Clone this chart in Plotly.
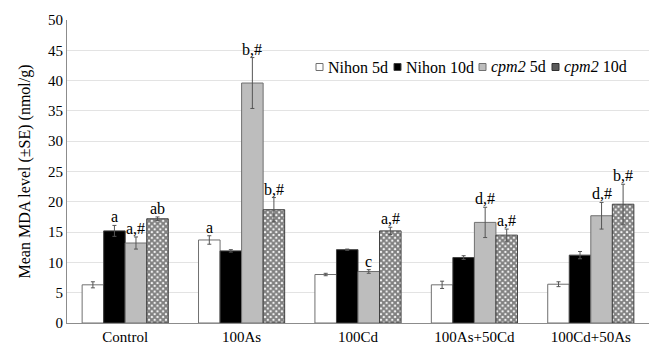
import plotly.graph_objects as go

categories = ["Control", "100As", "100Cd", "100As+50Cd", "100Cd+50As"]
series_names = ["Nihon 5d", "Nihon 10d", "<i>cpm2</i> 5d", "<i>cpm2</i> 10d"]

nihon_5d = [6.3, 13.7, 8.0, 6.3, 6.4]
nihon_10d = [15.2, 11.9, 12.1, 10.8, 11.2]
cpm2_5d = [13.2, 39.6, 8.5, 16.6, 17.7]
cpm2_10d = [17.2, 18.7, 15.2, 14.5, 19.6]

nihon_5d_se = [0.5, 0.7, 0.2, 0.6, 0.4]
nihon_10d_se = [0.9, 0.2, 0.1, 0.3, 0.6]
cpm2_5d_se = [1.0, 4.2, 0.3, 2.5, 2.2]
cpm2_10d_se = [0.3, 2.0, 0.6, 1.0, 3.3]

nihon_5d_lab = ["", "a", "", "", ""]
nihon_10d_lab = ["a", "", "", "", ""]
cpm2_5d_lab = ["a,#", "b,#", "c", "d,#", "d,#"]
cpm2_10d_lab = ["ab", "b,#", "a,#", "a,#", "b,#"]

values = [nihon_5d, nihon_10d, cpm2_5d, cpm2_10d]
errors = [nihon_5d_se, nihon_10d_se, cpm2_5d_se, cpm2_10d_se]
labels = [nihon_5d_lab, nihon_10d_lab, cpm2_5d_lab, cpm2_10d_lab]

fills = ["white", "black", "#bdbdbd", "#5a5a5a"]
edges = ["#707070", "#404040", "#707070", "#303030"]
styles = [
    dict(color="white", line=dict(color="#707070", width=1)),
    dict(color="black", line=dict(color="#404040", width=1)),
    dict(color="#bdbdbd", line=dict(color="#707070", width=1)),
    dict(color="white", line=dict(color="#404040", width=1),
         pattern=dict(shape="x", fgcolor="black", bgcolor="white", size=4, solidity=0.75)),
]

font = "Liberation Serif, Times New Roman, serif"
fig = go.Figure()
for name, v, e, lab, st in zip(series_names, values, errors, labels, styles):
    fig.add_trace(go.Bar(
        x=categories, y=v, name=name, marker=st, showlegend=False,
        error_y=dict(type="data", array=e, color="#555555", thickness=1, width=2),
    ))

n = len(series_names)
group_w = 1 - 0.26
bar_w = group_w / n
for si, (v, e, lab) in enumerate(zip(values, errors, labels)):
    for ci, cat in enumerate(categories):
        if lab[ci]:
            offset = -group_w / 2 + bar_w * (si + 0.5)
            fig.add_annotation(x=ci + offset, y=v[ci] + e[ci], text=lab[ci],
                               showarrow=False, yanchor="bottom", yshift=-2,
                               font=dict(family=font, size=16, color="black"))

# compact legend (small squares next to text, as in the reference)
L, T, W, H = 67, 20, 582, 303
def px(x):
    return (x - L) / W
def py(y):
    return (T + H - y) / H
legend_sq_x = [316, 394, 479, 552]
legend_tx_x = [326, 404, 489, 562]
leg_y = 67
for name, sx, tx, fc, ec in zip(series_names, legend_sq_x, legend_tx_x, fills, edges):
    fig.add_shape(type="rect", xref="paper", yref="paper",
                  x0=px(sx), x1=px(sx + 7), y0=py(leg_y + 3.5), y1=py(leg_y - 3.5),
                  fillcolor=fc, line=dict(color=ec, width=1))
    fig.add_annotation(xref="paper", yref="paper", x=px(tx), y=py(leg_y), text=name,
                       xanchor="left", yanchor="middle", showarrow=False,
                       font=dict(family=font, size=16, color="black"))

fig.update_layout(
    width=649, height=348,
    margin=dict(l=L, r=0, t=T, b=25),
    barmode="group", bargap=0.26, bargroupgap=0,
    plot_bgcolor="white", paper_bgcolor="white",
    font=dict(family=font, size=14, color="black"),
    showlegend=False,
    yaxis=dict(range=[0, 50], dtick=5, showgrid=True, gridcolor="#e3e3e3",
               showline=True, linecolor="#8c8c8c", linewidth=1, ticks="",
               tickfont=dict(family=font, size=15),
               title=dict(text="Mean MDA level (±SE) (nmol/g)", font=dict(family=font, size=16),
                          standoff=13),
               zeroline=False),
    xaxis=dict(type="category", showline=True, linecolor="#8c8c8c", linewidth=1,
               ticks="", tickfont=dict(family=font, size=15)),
)
fig.write_html("out.html")
